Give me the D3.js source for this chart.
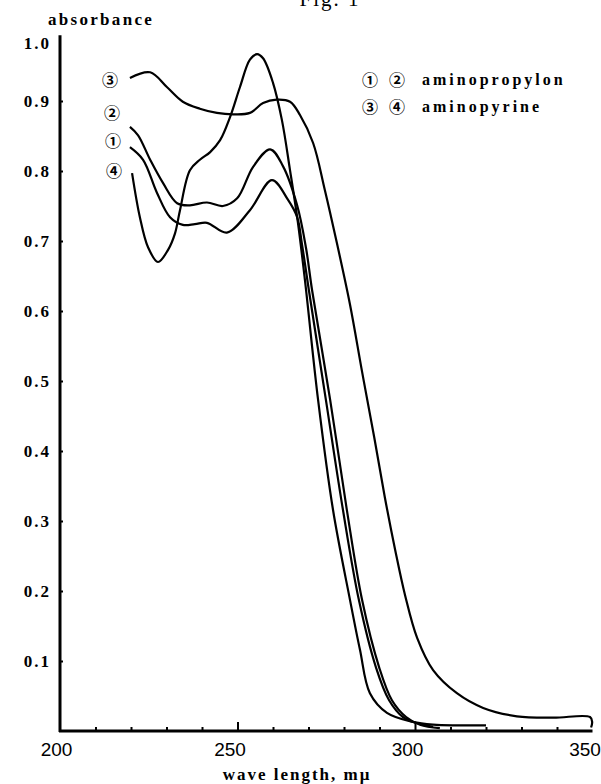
<!DOCTYPE html>
<html>
<head>
<meta charset="utf-8">
<script src="https://cdn.jsdelivr.net/npm/d3@7"></script>
<style>
  body { margin: 0; background: #fff; }
  svg text { fill: #000; }
</style>
</head>
<body>
<div id="chart"></div>
<script>
// Fig. 1 : absorption spectra, aminopropylon / aminopyrine

// global variables
var width = 601;
var height = 784;

// axis values
var xTickLabels = [200, 250, 300, 350];
var xMajorTicks = [250, 300];
var xMinorTicks = [210, 220, 230, 240, 260, 270, 280, 290, 310, 320, 330, 340];
var yTickLabels = [0.1, 0.2, 0.3, 0.4, 0.5, 0.6, 0.7, 0.8, 0.9];

// curves: [wave length, absorbance]
var curve1 = [ // (1) aminopropylon
  [219.7, 0.834], [223.4, 0.816], [227.3, 0.769], [231.0, 0.734], [234.6, 0.723],
  [238.0, 0.724], [241.4, 0.726], [247.0, 0.712], [253.5, 0.744], [259.7, 0.787],
  [264.2, 0.759], [266.8, 0.734], [268.2, 0.694], [270.1, 0.630], [274.9, 0.473],
  [279.7, 0.316], [284.2, 0.187], [289.0, 0.091], [292.7, 0.044], [296.6, 0.020],
  [300.6, 0.011], [305.1, 0.006]
];
var curve2 = [ // (2) aminopropylon
  [219.7, 0.863], [222.0, 0.851], [225.4, 0.816], [229.0, 0.783], [233.0, 0.754],
  [236.6, 0.751], [241.4, 0.755], [245.9, 0.750], [249.9, 0.761], [254.4, 0.806],
  [259.2, 0.831], [262.8, 0.807], [266.8, 0.751], [269.3, 0.690], [271.0, 0.630],
  [276.1, 0.473], [280.8, 0.316], [285.1, 0.187], [289.9, 0.091], [293.5, 0.044],
  [297.5, 0.020], [301.4, 0.009], [307.0, 0.004]
];
var curve3 = [ // (3) aminopyrine
  [219.7, 0.933], [225.4, 0.941], [230.1, 0.920], [234.6, 0.899], [239.4, 0.889],
  [244.2, 0.883], [248.7, 0.881], [253.5, 0.883], [257.2, 0.897], [261.0, 0.902],
  [264.8, 0.899], [267.6, 0.880], [271.3, 0.840], [274.6, 0.773], [278.0, 0.697],
  [281.7, 0.609], [285.1, 0.513], [288.5, 0.420], [291.5, 0.334], [294.4, 0.259],
  [297.2, 0.194], [300.6, 0.133], [305.1, 0.087], [311.8, 0.054], [319.2, 0.033],
  [328.7, 0.021], [338.9, 0.019], [349.3, 0.020], [349.9, 0.013], [349.6, 0.005]
];
var curve4 = [ // (4) aminopyrine
  [220.3, 0.797], [222.5, 0.734], [224.8, 0.691], [227.6, 0.670], [230.4, 0.687],
  [232.4, 0.711], [233.8, 0.744], [236.6, 0.801], [239.4, 0.816], [242.3, 0.827],
  [245.1, 0.844], [247.9, 0.877], [250.7, 0.920], [253.5, 0.959], [255.5, 0.967],
  [257.2, 0.961], [260.0, 0.926], [262.5, 0.873], [264.8, 0.801], [267.0, 0.727],
  [269.0, 0.644], [272.7, 0.473], [276.9, 0.316], [281.7, 0.187], [284.5, 0.116],
  [287.3, 0.054], [292.1, 0.026], [299.4, 0.013], [305.1, 0.009], [312.0, 0.008],
  [320.0, 0.008]
];

var curves = [curve1, curve2, curve3, curve4];
var curveMarks = ["\u2460", "\u2461", "\u2462", "\u2463"];
var legendMarks = [["\u2460", "\u2461"], ["\u2462", "\u2463"]];
var legendNames = ["aminopropylon", "aminopyrine"];

// where the circled numbers sit left of each curve start (px)
var markOffsets = [[-17, -6], [-18, -14], [-20, 2], [-18, -2]];

var serif = "'Liberation Serif', 'DejaVu Serif', serif";
var circled = "'Noto Sans CJK JP', 'DejaVu Sans', sans-serif";

gen_chart();

/**************************
 * gen_chart()
 *************************/
function gen_chart() {

  var svg = d3.select("#chart")
              .append("svg")
              .attr("width", width)
              .attr("height", height);

  var x = d3.scaleLinear().domain([200, 350]).range([60, 592.5]);
  var y = d3.scaleLinear().domain([0, 1]).range([731, 31]);

  // title, mostly cut off at the top edge
  svg.append("text")
     .attr("x", 330).attr("y", 6)
     .attr("text-anchor", "middle")
     .style("font-family", serif)
     .style("font-size", "21px")
     .style("letter-spacing", "2px")
     .text("Fig. 1");

  // y axis
  var yAxis = svg.append("g")
                 .attr("transform", "translate(" + x(200) + ",0)")
                 .call(d3.axisLeft(y)
                         .tickValues(yTickLabels)
                         .tickSize(-3)
                         .tickPadding(9)
                         .tickFormat(d3.format(".1f")));
  yAxis.select(".domain").remove();
  yAxis.selectAll("line").attr("stroke", "#000").attr("stroke-width", 2);
  yAxis.selectAll("text")
       .style("font-family", serif)
       .style("font-size", "17px")
       .style("font-weight", "bold")
       .style("letter-spacing", "2px");

  // the 1.0 label sits a bit below the top of the axis
  svg.append("text")
     .attr("x", x(200) - 9).attr("y", y(0.982))
     .attr("dy", "0.32em")
     .attr("text-anchor", "end")
     .style("font-family", serif)
     .style("font-size", "17px")
     .style("font-weight", "bold")
     .style("letter-spacing", "2px")
     .text("1.0");

  svg.append("line")
     .attr("x1", x(200)).attr("x2", x(200))
     .attr("y1", y(0) + 1).attr("y2", y(0.994))
     .attr("stroke", "#000").attr("stroke-width", 3);

  // x axis: minor ticks, major ticks, labels
  var gx = svg.append("g").attr("transform", "translate(0," + y(0) + ")");
  gx.append("g")
    .call(d3.axisBottom(x).tickValues(xMinorTicks).tickSize(-4).tickFormat(""))
    .select(".domain").remove();
  gx.append("g")
    .call(d3.axisBottom(x).tickValues(xMajorTicks).tickSize(-9).tickFormat(""))
    .select(".domain").remove();
  var xl = gx.append("g")
             .call(d3.axisBottom(x).tickValues(xTickLabels).tickSize(0).tickPadding(12));
  xl.select(".domain").remove();
  xl.selectAll("text")
    .attr("dx", function(d) { return d === 200 ? -4 : -8; })
    .style("font-family", "'Liberation Sans Narrow', 'Liberation Sans', sans-serif")
    .style("font-size", "19px");
  gx.selectAll("line").attr("stroke", "#000").attr("stroke-width", 2);

  svg.append("line")
     .attr("x1", x(200) - 1).attr("x2", x(350))
     .attr("y1", y(0)).attr("y2", y(0))
     .attr("stroke", "#000").attr("stroke-width", 3);

  // axis titles
  svg.append("text")
     .attr("x", 48).attr("y", 25)
     .style("font-family", serif)
     .style("font-size", "17px")
     .style("font-weight", "bold")
     .style("letter-spacing", "2.3px")
     .text("absorbance");

  svg.append("text")
     .attr("x", 297).attr("y", 780)
     .attr("text-anchor", "middle")
     .style("font-family", serif)
     .style("font-size", "17px")
     .style("font-weight", "bold")
     .style("letter-spacing", "2px")
     .text("wave length, m\u03bc");

  // curves
  var line = d3.line()
               .x(function(d) { return x(d[0]); })
               .y(function(d) { return y(d[1]); })
               .curve(d3.curveCatmullRom.alpha(0.5));

  svg.append("g")
     .selectAll("path")
     .data(curves)
     .enter()
     .append("path")
     .attr("fill", "none")
     .attr("stroke", "#000")
     .attr("stroke-width", 2.2)
     .attr("stroke-linejoin", "round")
     .attr("d", line);

  // circled numbers at the start of each curve
  svg.append("g")
     .selectAll("text")
     .data(curves)
     .enter()
     .append("text")
     .attr("x", function(d, i) { return x(d[0][0]) + markOffsets[i][0]; })
     .attr("y", function(d, i) { return y(d[0][1]) + markOffsets[i][1]; })
     .attr("dy", "0.35em")
     .attr("text-anchor", "middle")
     .style("font-family", circled)
     .style("font-size", "16px")
     .style("font-weight", "bold")
     .text(function(d, i) { return curveMarks[i]; });

  // legend
  var leg = svg.append("g")
               .selectAll("g")
               .data(legendNames)
               .enter()
               .append("g")
               .attr("transform", function(d, i) { return "translate(370," + (80 + i * 27) + ")"; });
  leg.each(function(d, i) {
    var g = d3.select(this);
    legendMarks[i].forEach(function(m, j) {
      g.append("text")
       .attr("x", j * 27).attr("dy", "0.35em")
       .attr("text-anchor", "middle")
       .style("font-family", circled)
       .style("font-size", "16px")
       .style("font-weight", "bold")
       .text(m);
    });
  });
  leg.append("text")
     .attr("x", 52).attr("dy", "0.32em")
     .style("font-family", serif)
     .style("font-size", "16px")
     .style("font-weight", "bold")
     .style("letter-spacing", "3px")
     .text(function(d) { return d; });
}
</script>
</body>
</html>
